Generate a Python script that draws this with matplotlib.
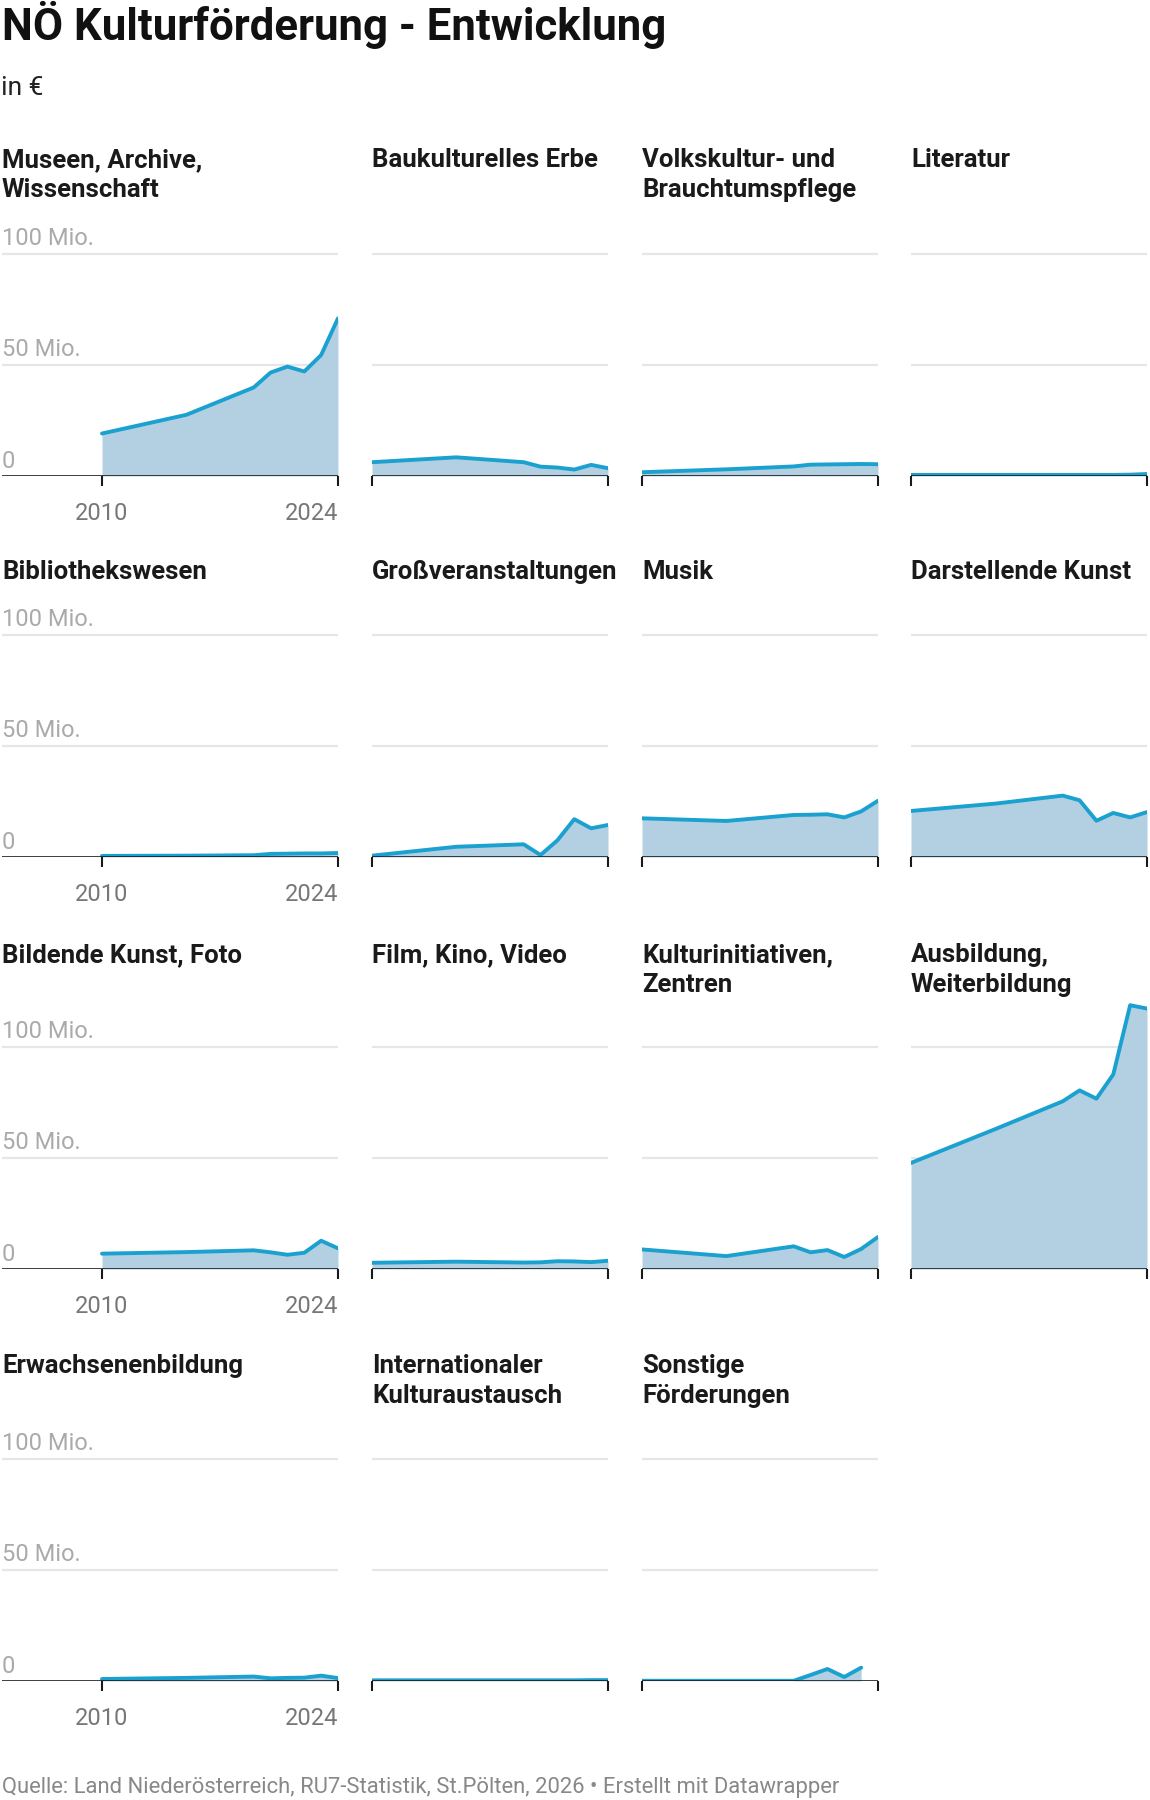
import numpy as np
import matplotlib
matplotlib.use("Agg")
import matplotlib.pyplot as plt

plt.rcParams['font.family'] = ['Roboto', 'DejaVu Sans']

W, H = 1150, 1800

years = [2010, 2015, 2019, 2020, 2021, 2022, 2023, 2024]

titles = [
    "Museen, Archive,\nWissenschaft", "Baukulturelles Erbe", "Volkskultur- und\nBrauchtumspflege", "Literatur",
    "Bibliothekswesen", "Großveranstaltungen", "Musik", "Darstellende Kunst",
    "Bildende Kunst, Foto", "Film, Kino, Video", "Kulturinitiativen,\nZentren", "Ausbildung,\nWeiterbildung",
    "Erwachsenenbildung", "Internationaler\nKulturaustausch", "Sonstige\nFörderungen",
]

# Werte in Mio. €
museen = [19.1, 27.5, 39.8, 46.5, 49.2, 47.0, 54.4, 70.9]
baukultur = [6.2, 8.4, 6.2, 4.2, 3.8, 2.9, 5.0, 3.5]
volkskultur = [1.7, 3.0, 4.3, 5.1, 5.2, 5.3, 5.4, 5.3]
literatur = [0.5, 0.5, 0.5, 0.5, 0.5, 0.5, 0.6, 0.9]
bibliothek = [0.5, 0.6, 0.8, 1.4, 1.5, 1.6, 1.6, 1.8]
grossveranst = [0.6, 4.6, 5.7, 0.9, 7.5, 17.0, 12.9, 14.4]
musik = [17.4, 16.2, 18.9, 19.0, 19.2, 17.8, 20.5, 25.3]
darstellende = [20.7, 24.0, 27.6, 25.5, 16.3, 19.8, 17.8, 20.2]
bildende = [6.9, 7.6, 8.4, 7.5, 6.4, 7.3, 12.7, 9.3]
film = [2.8, 3.3, 2.9, 3.0, 3.5, 3.4, 3.1, 3.7]
kulturinit = [8.8, 5.8, 10.2, 7.5, 8.5, 5.4, 9.0, 14.4]
ausbildung = [47.7, 62.9, 75.4, 80.3, 76.6, 87.5, 118.6, 117.1]
erwachsenen = [0.9, 1.4, 2.0, 1.2, 1.4, 1.5, 2.4, 1.3]
international = [0.3, 0.3, 0.3, 0.3, 0.3, 0.3, 0.4, 0.4]
sonstige = [0.1, 0.1, 0.1, 2.7, 5.4, 1.8, 6.0, np.nan]

series = [museen, baukultur, volkskultur, literatur,
          bibliothek, grossveranst, musik, darstellende,
          bildende, film, kulturinit, ausbildung,
          erwachsenen, international, sonstige]

y_ticks = [0, 50, 100]
y_ticklabels = ["0", "50 Mio.", "100 Mio."]
x_ticks = [2010, 2024]

LINE = "#1ba1d0"
FILL = "#b3d0e2"
GRID = "#e6e6e6"

fig = plt.figure(figsize=(W / 100, H / 100), dpi=100)

def fx(px):
    return px / W

def fy(py):
    return 1 - py / H

fig.text(fx(2), fy(25), "NÖ Kulturförderung - Entwicklung", fontsize=31.5,
         fontweight="bold", color="#111111", va="center", ha="left")
fig.text(fx(1), fy(88), "in €", fontsize=19, color="#222222", va="center", ha="left")
fig.text(fx(2), fy(1787),
         "Quelle: Land Niederösterreich, RU7-Statistik, St.Pölten, 2026 • Erstellt mit Datawrapper",
         fontsize=15.8, color="#888888", va="center", ha="left")

col_left = [102, 372, 642, 911]
col_w = 236
row_base = [476, 857, 1269, 1681]
row_title = [158, 570, 953, 1364]
px_per_mio = 2.224
ytop = 125

for i, (title, vals) in enumerate(zip(titles, series)):
    r, c = divmod(i, 4)
    left = col_left[c]
    base = row_base[r]
    h = ytop * px_per_mio
    x0 = 2010
    if c == 0:
        ext = left - 2
        x0 = 2010 - 14 * ext / col_w
        left = 2
        w = col_w + ext
    else:
        w = col_w
    ax = fig.add_axes([fx(left), fy(base), fx(w), h / H])
    ax.set_xlim(x0, 2024)
    ax.set_ylim(0, ytop)
    for s in ax.spines.values():
        s.set_visible(False)

    for yt in y_ticks[1:]:
        ax.axhline(yt, color=GRID, lw=1.6, zorder=0)
    v = np.array(vals, dtype=float)
    ax.fill_between(years, 0, v, color=FILL, lw=0, zorder=1)
    ax.plot(years, v, color=LINE, lw=2.8, solid_capstyle="round",
            solid_joinstyle="round", zorder=3)
    ax.axhline(0, color="#1a1a1a", lw=1.9, zorder=4)

    ax.set_yticks([])
    ax.set_xticks(x_ticks)
    ax.tick_params(axis="x", direction="out", length=7, width=1.5, color="#1a1a1a",
                   labelsize=17, labelcolor="#777777", pad=12)
    if c == 0:
        labs = ax.set_xticklabels([str(t) for t in x_ticks])
        labs[-1].set_ha("right")
        for yt, lab in zip(y_ticks, y_ticklabels):
            ax.annotate(lab, xy=(0, yt), xycoords=("axes fraction", "data"),
                        xytext=(0, 2.5), textcoords="offset points",
                        fontsize=17, color="#aaaaaa", ha="left", va="bottom")
    else:
        ax.set_xticklabels([])

    fig.text(fx(col_left[c] if c else 2), fy(row_title[r] - 10), title, fontsize=18.5,
             fontweight="bold", color="#1a1a1a", ha="left", va="top", linespacing=1.33)

fig.savefig("out.png", dpi=100, facecolor="white")
